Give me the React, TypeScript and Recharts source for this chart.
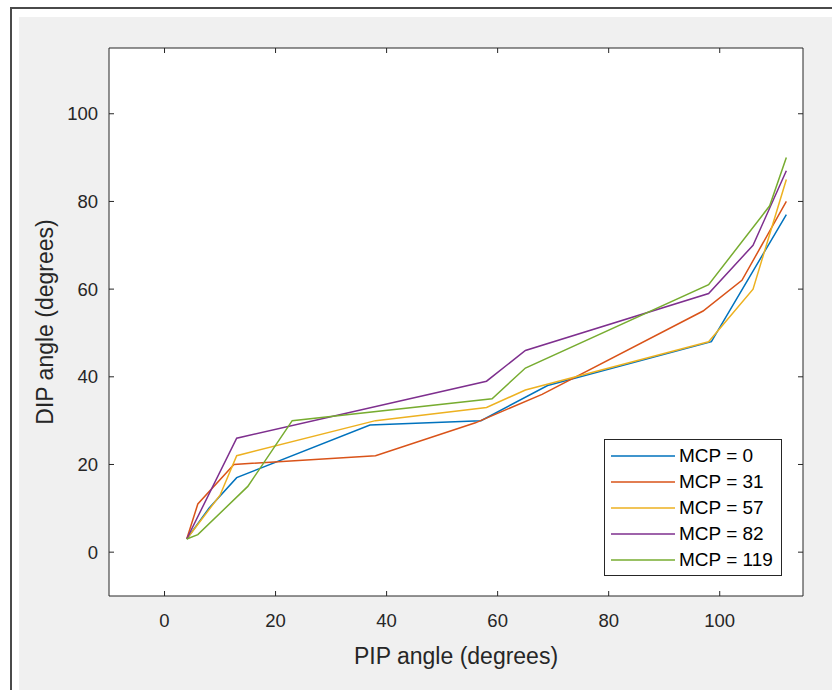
import React from 'react';
import { LineChart, Line, XAxis, YAxis, Legend } from 'recharts';

const FONT = '"Liberation Sans", Arial, Helvetica, sans-serif';
const AXIS_COLOR = '#262626';

const xTicks = [0, 20, 40, 60, 80, 100];
const yTicks = [0, 20, 40, 60, 80, 100];
const xDomain = [-10, 115];
const yDomain = [-10, 115];

const seriesNames = ['MCP = 0', 'MCP = 31', 'MCP = 57', 'MCP = 82', 'MCP = 119'];
const seriesColors = ['#0072BD', '#D95319', '#EDB120', '#7E2F8E', '#77AC30'];

const pip0 = [4, 8, 13, 37, 57, 69, 98.5, 112];
const dip0 = [3, 10, 17, 29, 30, 38, 48, 77];

const pip31 = [4, 6, 12.5, 38, 56, 68, 97, 104, 112];
const dip31 = [3, 11, 20, 22, 29.5, 36, 55, 62, 80];

const pip57 = [4, 10, 13, 38, 58, 65, 98, 106, 112];
const dip57 = [3, 13, 22, 30, 33, 37, 48, 60, 85];

const pip82 = [4, 13, 58, 65, 98, 106, 112];
const dip82 = [3, 26, 39, 46, 59, 70, 87];

const pip119 = [4, 6, 15, 23, 59, 65, 98, 109, 112];
const dip119 = [3, 4, 15, 30, 35, 42, 61, 79, 90];

const pips = [pip0, pip31, pip57, pip82, pip119];
const dips = [dip0, dip31, dip57, dip82, dip119];

const seriesData = pips.map((xs, i) => xs.map((x, j) => ({ x, y: dips[i][j] })));

const TICK_LEN = 5;
const TICK_FONT = 18.5;
const LABEL_FONT = 23;
const LEGEND_FONT = 19;

const BottomTick = (props: any) => {
  const { x, y, payload } = props;
  return (
    <g>
      <line x1={x} x2={x} y1={y} y2={y - TICK_LEN} stroke={AXIS_COLOR} strokeWidth={1} />
      <text x={x} y={y + 24} dy="0.355em" textAnchor="middle" fontFamily={FONT} fontSize={TICK_FONT} fill={AXIS_COLOR}>
        {payload.value}
      </text>
    </g>
  );
};

const TopTick = (props: any) => {
  const { x, y } = props;
  return <line x1={x} x2={x} y1={y} y2={y + TICK_LEN} stroke={AXIS_COLOR} strokeWidth={1} />;
};

const LeftTick = (props: any) => {
  const { x, y, payload } = props;
  return (
    <g>
      <line x1={x} x2={x + TICK_LEN} y1={y} y2={y} stroke={AXIS_COLOR} strokeWidth={1} />
      <text x={x - 11} y={y} dy="0.355em" textAnchor="end" fontFamily={FONT} fontSize={TICK_FONT} fill={AXIS_COLOR}>
        {payload.value}
      </text>
    </g>
  );
};

const RightTick = (props: any) => {
  const { x, y } = props;
  return <line x1={x} x2={x - TICK_LEN} y1={y} y2={y} stroke={AXIS_COLOR} strokeWidth={1} />;
};

const renderLegend = () => (
  <div
    style={{
      width: 178,
      height: 137,
      border: `1px solid ${AXIS_COLOR}`,
      background: '#fff',
      fontFamily: FONT,
      fontSize: LEGEND_FONT,
      color: '#000',
      paddingTop: 3,
      boxSizing: 'border-box',
    }}
  >
    {seriesNames.map((name, i) => (
      <div key={name} style={{ display: 'flex', alignItems: 'center', height: 26 }}>
        <svg width={74} height={26} style={{ display: 'block', flex: 'none' }}>
          <line x1={6} x2={70} y1={13} y2={13} stroke={seriesColors[i]} strokeWidth={1.5} />
        </svg>
        <span style={{ lineHeight: '26px', whiteSpace: 'nowrap' }}>{name}</span>
      </div>
    ))}
  </div>
);

export default function App() {
  return (
    <div style={{ position: 'absolute', left: 0, top: 0, width: 832, height: 690, background: '#fff', overflow: 'hidden' }}>
      <div
        style={{
          position: 'absolute',
          left: 10,
          top: 7,
          width: 830,
          height: 690,
          borderLeft: '2px solid #4a4a4a',
          borderTop: '2px solid #4a4a4a',
        }}
      />
      <div style={{ position: 'absolute', left: 19, top: 17, width: 813, height: 673, background: '#f0f0f0' }} />
      <div style={{ position: 'absolute', left: 109, top: 48, width: 694, height: 548, background: '#fff' }} />
      <div style={{ position: 'absolute', left: 0, top: 0 }}>
        <LineChart width={832} height={690} margin={{ top: 47, right: 28, bottom: 0, left: 0 }}>
          <XAxis
            type="number"
            dataKey="x"
            domain={xDomain}
            ticks={xTicks}
            allowDataOverflow
            height={94}
            tickSize={0}
            tickMargin={0}
            tickLine={false}
            axisLine={{ stroke: AXIS_COLOR, strokeWidth: 1 }}
            tick={<BottomTick />}
            interval={0}
            label={{
              value: 'PIP angle (degrees)',
              position: 'insideBottom',
              offset: 26,
              fontFamily: FONT,
              fontSize: LABEL_FONT,
              fill: AXIS_COLOR,
            }}
          />
          <XAxis
            xAxisId="top"
            orientation="top"
            type="number"
            dataKey="x"
            domain={xDomain}
            ticks={xTicks}
            allowDataOverflow
            height={1}
            tickSize={0}
            tickMargin={0}
            tickLine={false}
            axisLine={{ stroke: AXIS_COLOR, strokeWidth: 1 }}
            tick={<TopTick />}
            interval={0}
          />
          <YAxis
            type="number"
            dataKey="y"
            domain={yDomain}
            ticks={yTicks}
            allowDataOverflow
            width={109}
            tickSize={0}
            tickMargin={0}
            tickLine={false}
            axisLine={{ stroke: AXIS_COLOR, strokeWidth: 1 }}
            tick={<LeftTick />}
            interval={0}
            label={{
              value: 'DIP angle (degrees)',
              angle: -90,
              position: 'insideLeft',
              offset: 45,
              textAnchor: 'middle',
              fontFamily: FONT,
              fontSize: LABEL_FONT,
              fill: AXIS_COLOR,
            }}
          />
          <YAxis
            yAxisId="right"
            orientation="right"
            type="number"
            dataKey="y"
            domain={yDomain}
            ticks={yTicks}
            allowDataOverflow
            width={1}
            tickSize={0}
            tickMargin={0}
            tickLine={false}
            axisLine={{ stroke: AXIS_COLOR, strokeWidth: 1 }}
            tick={<RightTick />}
            interval={0}
          />
          <Legend
            layout="vertical"
            align="center"
            verticalAlign="middle"
            content={renderLegend}
            wrapperStyle={{ left: 604, top: 439, width: 178, height: 137 }}
          />
          {seriesData.map((d, i) => (
            <Line
              key={seriesNames[i]}
              data={d}
              dataKey="y"
              name={seriesNames[i]}
              type="linear"
              stroke={seriesColors[i]}
              strokeWidth={1.5}
              dot={false}
              activeDot={false}
              isAnimationActive={false}
            />
          ))}
        </LineChart>
      </div>
    </div>
  );
}
